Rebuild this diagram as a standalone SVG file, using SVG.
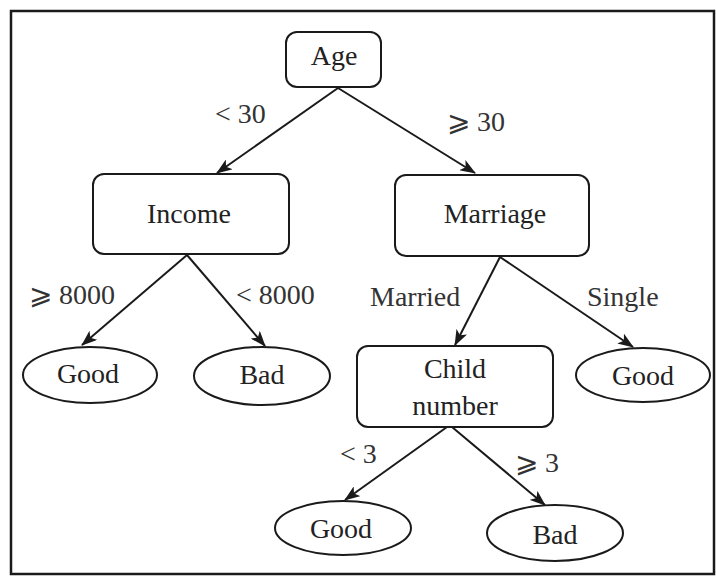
<svg xmlns="http://www.w3.org/2000/svg" width="716" height="576" viewBox="0 0 716 576">
<style>
.box{fill:#fff;stroke:#1a1a1a;stroke-width:2}
.leaf{fill:#fff;stroke:#1a1a1a;stroke-width:2}
.t{font-family:"Liberation Serif","Times New Roman",serif;font-size:28px;fill:#222;text-anchor:middle}
.lbl{font-family:"Liberation Serif","Times New Roman","DejaVu Serif",serif;font-size:28px;fill:#333}
.edge{stroke:#1a1a1a;stroke-width:2;fill:none;marker-end:url(#ah)}
</style>
<defs>
<marker id="ah" markerUnits="userSpaceOnUse" markerWidth="16" markerHeight="12" refX="15" refY="6" orient="auto">
<path d="M0,0 L16,6 L0,12 L4,6 z" fill="#1a1a1a"/>
</marker>
</defs>
<rect x="0" y="0" width="716" height="576" fill="#fff"/>
<rect x="11" y="11" width="703" height="563" fill="none" stroke="#1a1a1a" stroke-width="2.5"/>
<g id="connectors">
<line class="edge" x1="338" y1="88" x2="217" y2="173"/>
<line class="edge" x1="338" y1="88" x2="475" y2="173"/>
<line class="edge" x1="187" y1="255" x2="82" y2="345"/>
<line class="edge" x1="187" y1="255" x2="265" y2="346"/>
<line class="edge" x1="500" y1="257" x2="455" y2="345"/>
<line class="edge" x1="500" y1="257" x2="633" y2="347"/>
<line class="edge" x1="447" y1="427" x2="345" y2="500"/>
<line class="edge" x1="452" y1="427" x2="545" y2="505"/>
<text class="lbl" x="215" y="123">&lt; 30</text>
<text class="lbl" x="447" y="131">⩾ 30</text>
<text class="lbl" x="29" y="304">⩾ 8000</text>
<text class="lbl" x="236" y="304">&lt; 8000</text>
<text class="lbl" x="370" y="306">Married</text>
<text class="lbl" x="587" y="306">Single</text>
<text class="lbl" x="340" y="463">&lt; 3</text>
<text class="lbl" x="515" y="472">⩾ 3</text>
</g>
<g id="age"><rect class="box" x="286" y="32" width="95" height="55" rx="11"/><text class="t" x="334" y="65">Age</text></g>
<g id="income"><rect class="box" x="93" y="174" width="196" height="80" rx="11"/><text class="t" x="189" y="223">Income</text></g>
<g id="marriage"><rect class="box" x="395" y="175" width="194" height="81" rx="11"/><text class="t" x="495" y="223">Marriage</text></g>
<g id="good1"><ellipse class="leaf" cx="90" cy="375" rx="67" ry="28"/><text class="t" x="88" y="383">Good</text></g>
<g id="bad1"><ellipse class="leaf" cx="262" cy="376" rx="68" ry="29"/><text class="t" x="262" y="384">Bad</text></g>
<g id="child"><rect class="box" x="357" y="346" width="196" height="81" rx="11"/><text class="t" x="455" y="378">Child</text><text class="t" x="455" y="415">number</text></g>
<g id="good2"><ellipse class="leaf" cx="643" cy="375" rx="67" ry="27"/><text class="t" x="643" y="385">Good</text></g>
<g id="good3"><ellipse class="leaf" cx="343" cy="528" rx="68" ry="27"/><text class="t" x="341" y="538">Good</text></g>
<g id="bad2"><ellipse class="leaf" cx="555" cy="533" rx="68" ry="28"/><text class="t" x="555" y="544">Bad</text></g>
</svg>
